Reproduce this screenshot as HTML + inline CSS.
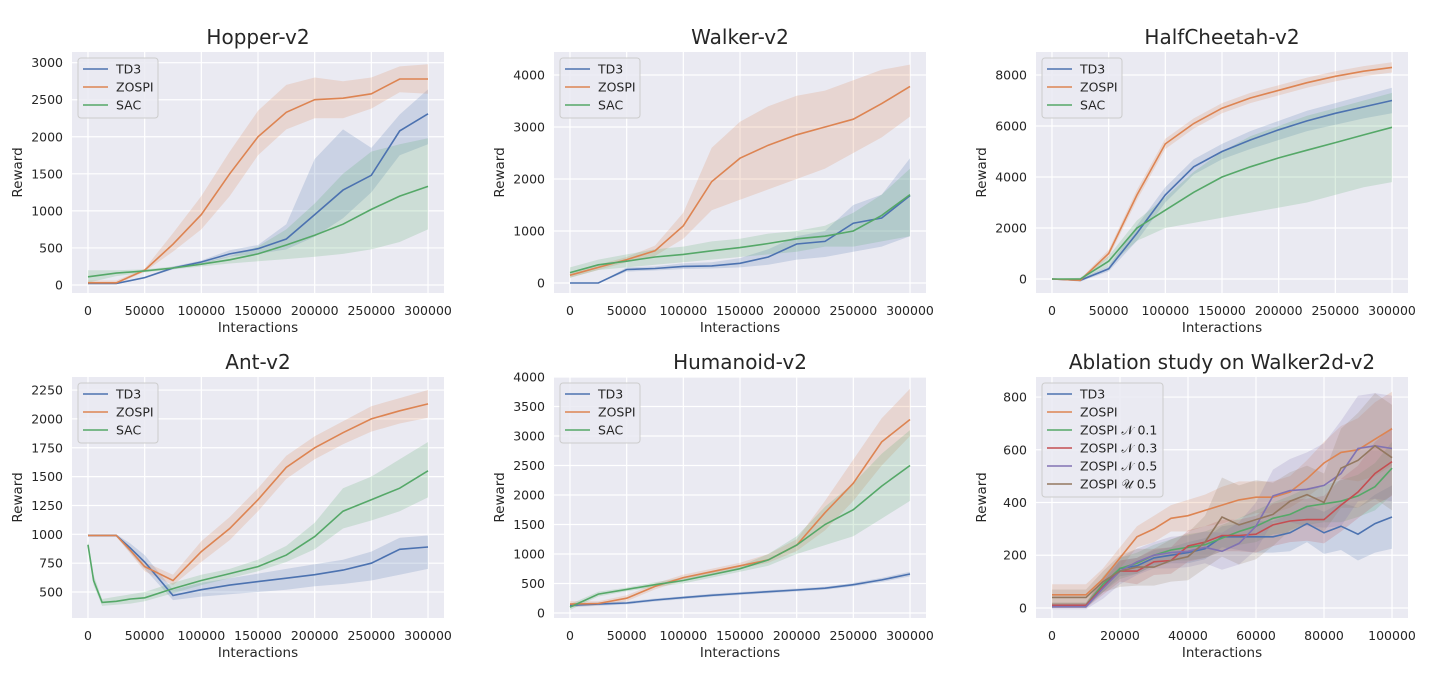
<!DOCTYPE html>
<html><head><meta charset="utf-8">
<style>
html,body{margin:0;padding:0;background:#fff;}
svg{display:block;font-family:"DejaVu Sans","Liberation Sans",sans-serif;}
</style></head>
<body>
<svg id="fig" width="1456" height="676" viewBox="0 0 1456 676" xmlns="http://www.w3.org/2000/svg"></svg>
<script>
// ---------- data ----------
const xs300 = [0,25000,50000,75000,100000,125000,150000,175000,200000,225000,250000,275000,300000];
const xsAnt = [0,5000,12500,25000,37500,50000,75000,100000,125000,150000,175000,200000,225000,250000,275000,300000];
const xsAbl = [0,5000,10000,15000,20000,25000,30000,35000,40000,45000,50000,55000,60000,65000,70000,75000,80000,85000,90000,95000,100000];

// Hopper
const hopTD3 = [20,20,100,230,310,420,490,620,950,1280,1480,2080,2310];
const hopTD3Lo = [10,10,90,210,280,380,420,480,650,900,1250,1750,1900];
const hopTD3Hi = [30,30,110,250,330,470,540,820,1700,2100,1850,2300,2640];
const hopZO = [30,30,200,550,950,1500,2000,2330,2500,2520,2580,2780,2780];
const hopZOLo = [10,10,180,450,750,1200,1750,2100,2250,2250,2380,2600,2580];
const hopZOHi = [60,60,220,700,1200,1800,2350,2700,2800,2750,2800,2950,2980];
const hopSAC = [110,160,190,230,280,340,420,540,670,820,1020,1200,1330];
const hopSACLo = [30,120,170,210,250,290,320,350,380,420,480,580,750];
const hopSACHi = [200,200,210,250,300,390,520,750,1100,1500,1800,1900,1980];
// Walker
const walTD3 = [0,0,260,280,320,330,380,500,750,800,1150,1250,1680];
const walTD3Lo = [0,0,220,240,270,280,300,350,450,500,600,700,900];
const walTD3Hi = [0,0,300,320,380,400,480,650,900,1000,1500,1700,2400];
const walZO = [150,300,450,620,1100,1950,2400,2650,2850,3000,3150,3450,3780];
const walZOLo = [100,250,400,520,850,1400,1600,1800,2000,2200,2500,2800,3200];
const walZOHi = [200,350,500,720,1350,2600,3100,3400,3600,3700,3900,4100,4200];
const walSAC = [200,350,420,500,550,620,680,760,850,900,1000,1300,1700];
const walSACLo = [100,250,300,350,400,450,500,550,600,700,700,800,900];
const walSACHi = [300,450,550,650,700,800,850,950,1000,1100,1350,1700,2200];
// HalfCheetah
const hcTD3 = [0,-50,400,1800,3300,4400,5000,5450,5850,6200,6500,6750,7000];
const hcTD3Lo = [0,-100,300,1500,3000,4100,4700,5100,5450,5800,6050,6300,6500];
const hcTD3Hi = [0,0,500,2100,3600,4700,5300,5800,6200,6600,6900,7200,7500];
const hcZO = [0,-50,1000,3300,5300,6100,6700,7100,7400,7700,7950,8150,8300];
const hcZOLo = [0,-100,850,3100,5100,5900,6500,6900,7200,7500,7750,7950,8100];
const hcZOHi = [0,0,1150,3500,5500,6300,6900,7300,7600,7900,8150,8350,8500];
const hcSAC = [0,0,700,2000,2700,3400,4000,4400,4750,5050,5350,5650,5950];
const hcSACLo = [0,-50,500,1500,2000,2200,2400,2600,2800,3000,3300,3600,3800];
const hcSACHi = [0,50,900,2300,3200,4200,5000,5600,6000,6400,6700,7000,7300];
// Ant
const antTD3 = [990,990,990,990,880,760,470,520,560,590,620,650,690,750,870,890];
const antTD3Lo = [980,980,980,980,840,700,430,460,480,500,520,550,570,600,650,700];
const antTD3Hi = [1000,1000,1000,1000,920,820,520,580,620,660,700,740,780,850,970,990];
const antZO = [990,990,990,990,860,720,600,850,1050,1300,1580,1750,1880,2000,2070,2130];
const antZOLo = [980,980,980,980,830,680,560,760,950,1200,1480,1650,1780,1890,1960,2010];
const antZOHi = [1000,1000,1000,1000,890,760,650,940,1150,1400,1680,1850,1980,2110,2180,2250];
const antSAC = [910,600,410,420,440,450,530,600,660,720,820,980,1200,1300,1400,1550];
const antSACLo = [880,560,380,390,400,420,490,560,620,680,760,870,1050,1120,1200,1320];
const antSACHi = [940,650,440,460,480,500,580,650,700,780,900,1100,1400,1500,1650,1800];
// Humanoid
const humTD3 = [130,150,170,220,260,300,330,360,390,420,480,560,660];
const humTD3Lo = [100,120,145,195,235,275,305,335,365,395,450,525,620];
const humTD3Hi = [160,180,195,245,285,325,355,385,415,445,510,595,700];
const humZO = [150,160,250,450,600,700,800,900,1150,1700,2200,2900,3280];
const humZOLo = [100,130,200,400,550,650,750,850,1050,1400,1900,2500,3000];
const humZOHi = [200,200,300,500,650,750,850,1000,1250,1900,2600,3300,3800];
const humSAC = [100,320,400,480,550,650,750,900,1150,1500,1750,2150,2500];
const humSACLo = [50,280,370,440,500,600,700,800,1000,1150,1300,1600,1900];
const humSACHi = [150,360,430,520,600,700,800,1000,1300,1800,2200,2700,3100];
// Ablation
const ablTD3 = [10,10,10,80,150,160,190,200,210,225,270,270,270,270,285,320,285,310,280,320,345];
const ablTD3Hw = [10,10,10,20,30,30,30,30,40,40,40,50,60,60,70,70,80,90,100,110,120];
const ablZO = [50,50,50,110,190,270,300,340,350,370,390,410,420,420,440,490,550,590,600,640,680];
const ablZOHw = [40,40,40,40,40,40,50,50,60,60,70,70,60,60,60,70,80,100,120,140,140];
const ablN1 = [10,10,10,90,150,170,200,220,230,240,265,290,310,340,355,385,395,405,425,460,530];
const ablN1Hw = [10,10,10,30,40,40,40,40,50,50,50,50,60,60,70,70,70,80,80,90,100];
const ablN3 = [10,10,10,80,140,140,175,180,235,250,275,275,280,315,330,335,335,390,440,510,555];
const ablN3Hw = [10,10,10,30,40,50,50,50,60,60,60,60,70,80,80,80,90,100,100,120,130];
const ablN5 = [5,5,5,75,140,175,200,210,215,230,215,245,310,425,445,450,465,510,605,615,605];
const ablN5Hw = [10,10,10,40,50,50,50,60,60,60,70,80,90,100,120,140,160,200,200,200,200];
const ablU5 = [40,40,40,100,140,155,155,180,195,250,345,315,335,355,405,430,400,530,560,615,570];
const ablU5Hw = [30,30,30,40,60,70,70,80,90,100,150,150,150,120,110,110,110,150,180,200,200];

const xt300 = [0,50000,100000,150000,200000,250000,300000];
const xtAbl = [0,20000,40000,60000,80000,100000];

const C = {blue:'#4c72b0',orange:'#dd8452',green:'#55a868',red:'#c44e52',purple:'#8172b3',brown:'#937860'};
const NS = 'http://www.w3.org/2000/svg';
const fig = document.getElementById('fig');
function el(tag, attrs, parent){const e=document.createElementNS(NS,tag);for(const k in attrs)e.setAttribute(k,attrs[k]);(parent||fig).appendChild(e);return e;}
function mk(s){return s.toLowerCase().replace(/[^a-z0-9]+/g,'-').replace(/^-|-$/g,'');}

function panel(p){
  const L=p.left,T=p.top,W=372,H=241;
  const g=el('g',{});
  
  
  const xmin=p.xmax*-0.047, xmax=p.xmax*1.047;
  const X=v=>L+(v-xmin)/(xmax-xmin)*W;
  const Y=v=>T+H-(v-p.ymin)/(p.ymax-p.ymin)*H;
  const bg=el('rect',{x:L,y:T,width:W,height:H,fill:'#eaeaf2'},g);
  
  
  p.xt.forEach(v=>{
    const ln=el('line',{x1:X(v),x2:X(v),y1:T,y2:T+H,stroke:'#fff','stroke-width':1.2},g);
    
    
    const t=el('text',{x:X(v),y:T+H+22,'text-anchor':'middle','font-size':12.5,fill:'#262626'},g);
    t.textContent=v;
    
    
  });
  p.yt.forEach(v=>{
    const ln=el('line',{x1:L,x2:L+W,y1:Y(v),y2:Y(v),stroke:'#fff','stroke-width':1.2},g);
    
    
    const t=el('text',{x:L-9,y:Y(v)+4.5,'text-anchor':'end','font-size':12.5,fill:'#262626'},g);
    t.textContent=v;
    
    
  });
  p.series.forEach(s=>{
    let lo=s.lo,hi=s.hi;
    if(s.hw){lo=s.y.map((v,i)=>v-s.hw[i]);hi=s.y.map((v,i)=>v+s.hw[i]);}
    let d='M'+p.x.map((v,i)=>X(v).toFixed(1)+','+Y(hi[i]).toFixed(1)).join('L');
    d+='L'+p.x.map((v,i)=>X(v).toFixed(1)+','+Y(lo[i]).toFixed(1)).reverse().join('L')+'Z';
    const band=el('path',{d:d,fill:s.c,'fill-opacity':0.2,stroke:'none'},g);
    
    
  });
  p.series.forEach(s=>{
    const pts=p.x.map((v,i)=>X(v).toFixed(1)+','+Y(s.y[i]).toFixed(1)).join(' ');
    const pl=el('polyline',{points:pts,fill:'none',stroke:s.c,'stroke-width':1.6},g);
    
    
  });
  // legend
  const lw=p.legW, lh=p.series.length*18+6;
  const lg=el('g',{},g);
  
  
  el('rect',{x:L+6,y:T+6,width:lw,height:lh,rx:3,fill:'#eaeaf2','fill-opacity':0.85,stroke:'#cccccc','stroke-width':1},lg);
  p.series.forEach((s,i)=>{
    const yy=T+17+i*18;
    const e=el('g',{},lg);
    
    
    el('line',{x1:L+11,x2:L+36,y1:yy,y2:yy,stroke:s.c,'stroke-width':1.6},e);
    const t=el('text',{x:L+44,y:yy+4.5,'font-size':12.5,fill:'#262626'},e);
    t.textContent=s.n;
  });
  const tt=el('text',{x:L+W/2,y:T-8,'text-anchor':'middle','font-size':20,fill:'#262626'},g);
  tt.textContent=p.title;
  
  
  const xl=el('text',{x:L+W/2,y:T+H+39,'text-anchor':'middle','font-size':13.5,fill:'#262626'},g);
  xl.textContent='Interactions';
  
  
  const yx=L-50, yy=T+H/2;
  const yl=el('text',{x:yx,y:yy,'text-anchor':'middle','font-size':13.5,fill:'#262626',transform:'rotate(-90 '+yx+' '+yy+')'},g);
  yl.textContent='Reward';
  
  
}

const rowT=[52,377], colL=[72,554,1036];
panel({title:'Hopper-v2',left:colL[0],top:rowT[0],xmax:300000,ymin:-108,ymax:3144,x:xs300,xt:xt300,yt:[0,500,1000,1500,2000,2500,3000],legW:80,
 series:[{n:'TD3',c:C.blue,y:hopTD3,lo:hopTD3Lo,hi:hopTD3Hi},{n:'ZOSPI',c:C.orange,y:hopZO,lo:hopZOLo,hi:hopZOHi},{n:'SAC',c:C.green,y:hopSAC,lo:hopSACLo,hi:hopSACHi}]});
panel({title:'Walker-v2',left:colL[1],top:rowT[0],xmax:300000,ymin:-192,ymax:4442,x:xs300,xt:xt300,yt:[0,1000,2000,3000,4000],legW:80,
 series:[{n:'TD3',c:C.blue,y:walTD3,lo:walTD3Lo,hi:walTD3Hi},{n:'ZOSPI',c:C.orange,y:walZO,lo:walZOLo,hi:walZOHi},{n:'SAC',c:C.green,y:walSAC,lo:walSACLo,hi:walSACHi}]});
panel({title:'HalfCheetah-v2',left:colL[2],top:rowT[0],xmax:300000,ymin:-549,ymax:8902,x:xs300,xt:xt300,yt:[0,2000,4000,6000,8000],legW:80,
 series:[{n:'TD3',c:C.blue,y:hcTD3,lo:hcTD3Lo,hi:hcTD3Hi},{n:'ZOSPI',c:C.orange,y:hcZO,lo:hcZOLo,hi:hcZOHi},{n:'SAC',c:C.green,y:hcSAC,lo:hcSACLo,hi:hcSACHi}]});
panel({title:'Ant-v2',left:colL[0],top:rowT[1],xmax:300000,ymin:275,ymax:2363,x:xsAnt,xt:xt300,yt:[500,750,1000,1250,1500,1750,2000,2250],legW:80,
 series:[{n:'TD3',c:C.blue,y:antTD3,lo:antTD3Lo,hi:antTD3Hi},{n:'ZOSPI',c:C.orange,y:antZO,lo:antZOLo,hi:antZOHi},{n:'SAC',c:C.green,y:antSAC,lo:antSACLo,hi:antSACHi}]});
panel({title:'Humanoid-v2',left:colL[1],top:rowT[1],xmax:300000,ymin:-85,ymax:4000,x:xs300,xt:xt300,yt:[0,500,1000,1500,2000,2500,3000,3500,4000],legW:80,
 series:[{n:'TD3',c:C.blue,y:humTD3,lo:humTD3Lo,hi:humTD3Hi},{n:'ZOSPI',c:C.orange,y:humZO,lo:humZOLo,hi:humZOHi},{n:'SAC',c:C.green,y:humSAC,lo:humSACLo,hi:humSACHi}]});
panel({title:'Ablation study on Walker2d-v2',left:colL[2],top:rowT[1],xmax:100000,ymin:-38,ymax:876,x:xsAbl,xt:xtAbl,yt:[0,200,400,600,800],legW:121,
 series:[{n:'TD3',c:C.blue,y:ablTD3,hw:ablTD3Hw},{n:'ZOSPI',c:C.orange,y:ablZO,hw:ablZOHw},{n:'ZOSPI 𝒩 0.1',c:C.green,y:ablN1,hw:ablN1Hw},
 {n:'ZOSPI 𝒩 0.3',c:C.red,y:ablN3,hw:ablN3Hw},{n:'ZOSPI 𝒩 0.5',c:C.purple,y:ablN5,hw:ablN5Hw},{n:'ZOSPI 𝒰 0.5',c:C.brown,y:ablU5,hw:ablU5Hw}]});
</script>
</body></html>
